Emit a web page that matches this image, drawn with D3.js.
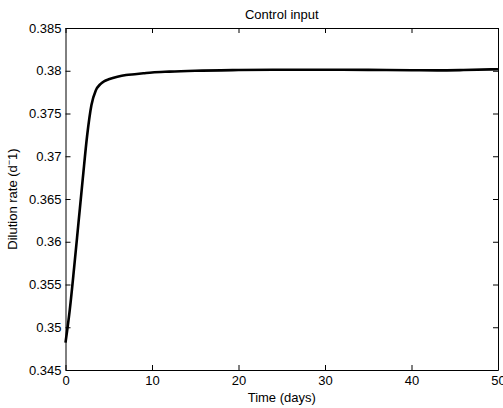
<!DOCTYPE html>
<html>
<head>
<meta charset="utf-8">
<script src="https://cdn.jsdelivr.net/npm/d3@7"></script>
<style>
  html, body { margin: 0; padding: 0; background: #fff; }
  svg { display: block; font-family: "Liberation Sans", Arial, Helvetica, sans-serif; }
</style>
</head>
<body>
<div id="chart"></div>
<script>
// time (days) and control input (dilution rate, 1/d)
const timeDays = [0, 0.5, 1, 1.5, 2, 2.5, 3, 3.5, 4, 4.5, 5, 6, 7, 8, 9, 10, 12, 15, 20, 25, 30, 35, 40, 43, 46, 50];
const dilution = [0.3482, 0.3521, 0.3570, 0.3622, 0.3674, 0.3724, 0.3760, 0.3777, 0.3784, 0.3788,
                  0.3790, 0.3793, 0.3795, 0.3796, 0.3797, 0.3798, 0.3799, 0.3800, 0.38008, 0.38012,
                  0.38012, 0.38010, 0.38006, 0.38004, 0.38008, 0.38018];

const xTicks = [0, 10, 20, 30, 40, 50];
const yTicks = [0.345, 0.35, 0.355, 0.36, 0.365, 0.37, 0.375, 0.38, 0.385];
const yTickLabels = ["0.345", "0.35", "0.355", "0.36", "0.365", "0.37", "0.375", "0.38", "0.385"];

const chartTitle = "Control input";
const xTitle = "Time (days)";

function draw_chart() {
  const width = 503, height = 408;
  const left = 65.5, right = 498, top = 28, bottom = 370;

  const svg = d3.select("#chart").append("svg")
    .attr("width", width)
    .attr("height", height);

  const x = d3.scaleLinear().domain([0, 50]).range([left, right]);
  const y = d3.scaleLinear().domain([0.345, 0.385]).range([bottom, top]);

  const data = timeDays.map((t, i) => ({ t: t, v: dilution[i] }));

  // the curve
  const line = d3.line()
    .x(d => x(d.t))
    .y(d => y(d.v))
    .curve(d3.curveMonotoneX);

  svg.append("path")
    .datum(data)
    .attr("fill", "none")
    .attr("stroke", "#000")
    .attr("stroke-width", 2.6)
    .attr("stroke-linejoin", "round")
    .attr("d", line);

  // axes, ticks pointing inward (matlab box style)
  const fontSize = "13px";

  const gx = svg.append("g")
    .attr("transform", `translate(0,${bottom})`)
    .call(d3.axisBottom(x).tickValues(xTicks).tickSize(-5).tickSizeOuter(0).tickPadding(6));
  gx.selectAll("text").style("font-size", fontSize).attr("fill", "#000");

  const gxTop = svg.append("g")
    .attr("transform", `translate(0,${top})`)
    .call(d3.axisTop(x).tickValues(xTicks).tickSize(-5).tickSizeOuter(0).tickFormat(""));

  const gy = svg.append("g")
    .attr("transform", `translate(${left},0)`)
    .call(d3.axisLeft(y).tickValues(yTicks).tickSize(-5).tickSizeOuter(0).tickPadding(4)
      .tickFormat((d, i) => yTickLabels[i]));
  gy.selectAll("text").style("font-size", fontSize).attr("fill", "#000");

  const gyRight = svg.append("g")
    .attr("transform", `translate(${right},0)`)
    .call(d3.axisRight(y).tickValues(yTicks).tickSize(-5).tickSizeOuter(0).tickFormat(""));

  [gx, gxTop, gy, gyRight].forEach(g => {
    g.select(".domain").attr("stroke", "#000").attr("stroke-width", 1);
    g.selectAll(".tick line").attr("stroke", "#000");
  });

  // title and axis labels
  svg.append("text")
    .attr("x", (left + right) / 2)
    .attr("y", 18.5)
    .attr("text-anchor", "middle")
    .style("font-size", fontSize)
    .text(chartTitle);

  svg.append("text")
    .attr("x", (left + right) / 2)
    .attr("y", 402)
    .attr("text-anchor", "middle")
    .style("font-size", fontSize)
    .text(xTitle);

  const yl = svg.append("text")
    .attr("transform", `translate(17,${(top + bottom) / 2}) rotate(-90)`)
    .attr("text-anchor", "middle")
    .style("font-size", fontSize);
  yl.append("tspan").text("Dilution rate (d");
  yl.append("tspan").attr("baseline-shift", "super").style("font-size", "9px").text("\u2212");
  yl.append("tspan").text("1)");
}

draw_chart();
</script>
</body>
</html>
